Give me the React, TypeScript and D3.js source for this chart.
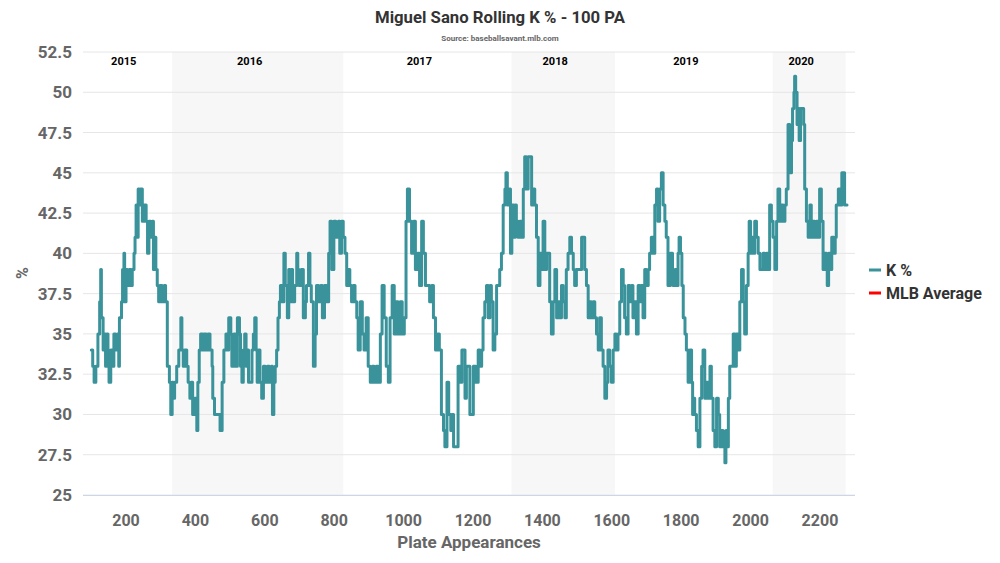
import * as d3 from "d3";

const width = 1000;
const height = 563;
const plot = {left: 83, right: 855, top: 52, bottom: 495};

// rolling 100 PA strikeout rate: [plate appearance, K %]
const rollingK: [number, number][] = [
    [100, 34], [104, 33], [108, 32], [113, 33], [119, 35], [124, 37], [127, 39], [129, 36], [134, 34], [137, 35],
    [141, 33], [144, 35], [148, 33], [151, 32], [156, 34], [161, 33], [165, 35], [170, 34], [175, 35], [179, 33],
    [181, 36], [187, 37], [190, 39], [194, 40], [196, 37], [200, 39], [204, 38], [209, 39], [214, 38], [218, 39],
    [223, 40], [226, 41], [229, 43], [231, 41], [235, 44], [238, 43], [242, 44], [247, 42], [252, 43], [258, 42],
    [262, 40], [266, 42], [271, 41], [276, 42], [279, 39], [283, 41], [286, 39], [290, 38], [294, 37], [298, 38],
    [304, 37], [310, 38], [314, 37], [319, 33], [325, 32], [329, 30], [333, 32], [336, 31], [340, 32], [346, 33],
    [352, 34], [358, 36], [361, 34], [365, 33], [369, 34], [375, 33], [379, 32], [384, 31], [388, 32], [392, 30],
    [398, 31], [404, 29], [407, 32], [411, 34], [415, 35], [421, 34], [425, 35], [431, 34], [436, 35], [442, 34],
    [448, 33], [450, 31], [455, 30], [466, 30], [471, 29], [477, 32], [482, 34], [488, 35], [492, 34], [496, 36],
    [502, 35], [505, 33], [511, 35], [515, 33], [521, 36], [527, 35], [530, 33], [534, 32], [538, 34], [542, 35],
    [546, 33], [550, 34], [553, 32], [563, 34], [567, 35], [571, 36], [575, 34], [578, 32], [582, 34], [586, 32],
    [591, 31], [596, 33], [601, 32], [607, 33], [613, 32], [619, 33], [622, 30], [626, 32], [630, 33], [634, 34],
    [638, 36], [642, 37], [645, 38], [651, 37], [655, 40], [659, 38], [665, 36], [669, 39], [672, 37], [676, 39],
    [680, 37], [686, 38], [692, 40], [695, 39], [699, 38], [705, 39], [711, 36], [717, 37], [720, 38], [726, 40],
    [730, 38], [734, 37], [740, 33], [745, 35], [749, 38], [755, 37], [761, 38], [766, 36], [772, 38], [778, 37],
    [784, 40], [788, 42], [793, 39], [799, 42], [805, 41], [812, 42], [816, 40], [821, 42], [826, 41], [831, 40],
    [836, 38], [840, 39], [845, 38], [850, 37], [855, 38], [860, 37], [865, 36], [869, 34], [875, 37], [881, 35],
    [886, 34], [892, 36], [898, 33], [904, 32], [910, 33], [915, 32], [921, 33], [927, 32], [933, 35], [938, 38],
    [944, 36], [950, 33], [956, 32], [961, 36], [967, 38], [973, 35], [979, 37], [984, 35], [990, 37], [996, 35],
    [1002, 36], [1007, 42], [1011, 44], [1017, 42], [1023, 40], [1029, 42], [1034, 39], [1040, 40], [1046, 38], [1052, 42],
    [1057, 40], [1063, 38], [1075, 37], [1081, 38], [1086, 36], [1092, 34], [1098, 35], [1103, 34], [1109, 30], [1115, 29],
    [1119, 28], [1125, 32], [1130, 30], [1136, 29], [1140, 30], [1144, 28], [1157, 33], [1163, 32], [1168, 34], [1177, 31],
    [1181, 33], [1191, 30], [1201, 33], [1208, 32], [1215, 34], [1220, 33], [1225, 34], [1229, 36], [1234, 37], [1239, 38],
    [1244, 36], [1249, 38], [1253, 37], [1258, 34], [1263, 35], [1268, 38], [1277, 39], [1282, 40], [1287, 43], [1292, 44],
    [1295, 45], [1299, 43], [1304, 44], [1308, 40], [1312, 43], [1318, 41], [1322, 43], [1325, 42], [1330, 41], [1335, 42],
    [1340, 41], [1345, 44], [1349, 46], [1354, 44], [1359, 46], [1369, 43], [1373, 44], [1378, 43], [1383, 41], [1388, 38],
    [1393, 40], [1397, 39], [1402, 42], [1407, 39], [1412, 40], [1421, 37], [1426, 35], [1431, 37], [1436, 39], [1441, 36],
    [1445, 37], [1450, 36], [1455, 38], [1460, 37], [1465, 36], [1469, 39], [1474, 40], [1479, 41], [1484, 40], [1489, 39],
    [1493, 38], [1498, 39], [1513, 41], [1522, 39], [1527, 38], [1532, 36], [1537, 37], [1541, 36], [1546, 37], [1551, 36],
    [1556, 35], [1561, 34], [1565, 36], [1570, 34], [1575, 33], [1580, 31], [1585, 32], [1589, 34], [1594, 33], [1599, 32],
    [1604, 34], [1609, 35], [1613, 34], [1618, 35], [1623, 37], [1628, 39], [1633, 38], [1637, 36], [1642, 35], [1647, 38],
    [1652, 37], [1657, 38], [1661, 36], [1666, 37], [1671, 35], [1676, 38], [1681, 37], [1685, 38], [1690, 36], [1695, 39],
    [1700, 38], [1705, 39], [1709, 40], [1714, 41], [1719, 40], [1724, 43], [1729, 44], [1733, 42], [1738, 44], [1743, 45],
    [1748, 43], [1753, 42], [1757, 41], [1762, 38], [1769, 40], [1775, 39], [1777, 38], [1782, 39], [1787, 38], [1791, 40],
    [1794, 41], [1798, 40], [1802, 38], [1806, 36], [1811, 35], [1815, 34], [1820, 32], [1825, 34], [1830, 32], [1833, 30],
    [1837, 31], [1839, 30], [1844, 29], [1849, 28], [1854, 31], [1859, 33], [1863, 34], [1868, 31], [1873, 32], [1878, 31],
    [1883, 33], [1887, 31], [1892, 29], [1897, 28], [1902, 31], [1907, 30], [1911, 28], [1916, 29], [1921, 28], [1926, 27],
    [1929, 29], [1933, 28], [1936, 31], [1940, 33], [1950, 35], [1955, 33], [1959, 35], [1964, 34], [1969, 37], [1974, 39],
    [1979, 37], [1983, 35], [1988, 38], [1993, 40], [1996, 42], [2000, 40], [2004, 41], [2007, 40], [2012, 42], [2017, 41],
    [2022, 40], [2027, 39], [2036, 40], [2041, 39], [2046, 40], [2051, 39], [2055, 43], [2060, 42], [2065, 41], [2070, 39],
    [2075, 42], [2079, 44], [2084, 42], [2089, 43], [2094, 42], [2099, 43], [2103, 44], [2108, 48], [2113, 45], [2118, 47],
    [2121, 49], [2125, 50], [2127, 51], [2130, 50], [2134, 48], [2137, 49], [2140, 47], [2144, 49], [2153, 48], [2156, 44],
    [2161, 42], [2166, 41], [2171, 43], [2175, 41], [2180, 42], [2185, 41], [2190, 42], [2195, 41], [2199, 44], [2204, 42],
    [2209, 39], [2214, 40], [2219, 39], [2221, 38], [2225, 40], [2230, 39], [2234, 41], [2240, 40], [2244, 41], [2247, 43],
    [2253, 44], [2259, 43], [2263, 45], [2271, 43], [2278, 43],
];

// seasons as PA ranges; odd-indexed ones get a grey band
const seasons = ["2015", "2016", "2017", "2018", "2019", "2020"];
const seasonStarts = [100, 333, 826, 1311, 1609, 2064];
const seasonEnds = [333, 826, 1311, 1609, 2064, 2274];

const xTicks = [200, 400, 600, 800, 1000, 1200, 1400, 1600, 1800, 2000, 2200];
const yTicks = [25, 27.5, 30, 32.5, 35, 37.5, 40, 42.5, 45, 47.5, 50, 52.5];

const legendItems = ["K %", "MLB Average"];
const legendColors = ["#3a939b", "#ff0000"];

const font = "Roboto, 'Open Sans', sans-serif";

const App = () => {
    const x = d3.scaleLinear().domain([76, 2301]).range([plot.left, plot.right]);
    const y = d3.scaleLinear().domain([25, 52.5]).range([plot.bottom, plot.top]);

    const line = d3.line<[number, number]>()
        .x(d => x(d[0]))
        .y(d => y(d[1]))
        .curve(d3.curveStepAfter);

    return <svg width={width} height={height} style={{position: "absolute", left: 0, top: 0}} fontFamily={font}>
        <rect width={width} height={height} fill="#ffffff"/>

        {seasons.map((s, i) => i % 2 === 1 &&
            <rect key={s} x={x(seasonStarts[i])} y={plot.top} width={x(seasonEnds[i]) - x(seasonStarts[i])}
                  height={plot.bottom - plot.top} fill="#f7f7f7"/>)}

        {yTicks.map(t => <line key={t} x1={plot.left} x2={plot.right} y1={y(t)} y2={y(t)}
                               stroke="#e6e6e6" strokeWidth={1}/>)}
        <line x1={plot.left} x2={plot.right} y1={plot.bottom + 0.5} y2={plot.bottom + 0.5} stroke="#ccd6eb"/>

        {seasons.map((s, i) => <text key={s} x={(x(seasonStarts[i]) + x(seasonEnds[i])) / 2 - 8} y={65}
                                     textAnchor="middle" fontSize={11} fontWeight="bold" fill="#000">{s}</text>)}

        <path d={line(rollingK) ?? ""} fill="none" stroke={legendColors[0]} strokeWidth={3}
              strokeLinejoin="round" strokeLinecap="round"/>

        {yTicks.map(t => <text key={t} x={72} y={y(t) + 6} textAnchor="end" fontSize={17}
                               fontWeight="bold" fill="#666666">{t}</text>)}
        {xTicks.map(t => <text key={t} x={x(t)} y={526} textAnchor="middle" fontSize={16}
                               fontWeight="bold" fill="#666666">{t}</text>)}

        <text x={469} y={548} textAnchor="middle" fontSize={17} fontWeight="bold" fill="#666666">Plate Appearances</text>
        <text transform="translate(28,273) rotate(-90)" textAnchor="middle" fontSize={16} fontWeight="bold"
              fill="#666666">%</text>

        <text x={500} y={23} textAnchor="middle" fontSize={16} fontWeight="bold" fill="#333333"
              textLength={250} lengthAdjust="spacingAndGlyphs">Miguel Sano Rolling K % - 100 PA</text>
        <text x={500} y={41} textAnchor="middle" fontSize={8} fontWeight="bold" fill="#666666">Source: baseballsavant.mlb.com</text>

        {legendItems.map((name, i) => <g key={name} transform={`translate(869,${270 + i * 23})`}>
            <line x1={0} x2={12} y1={0} y2={0} stroke={legendColors[i]} strokeWidth={3}/>
            <text x={17} y={6} fontSize={16} fontWeight="bold" fill="#333333">{name}</text>
        </g>)}
    </svg>
}

export default App
